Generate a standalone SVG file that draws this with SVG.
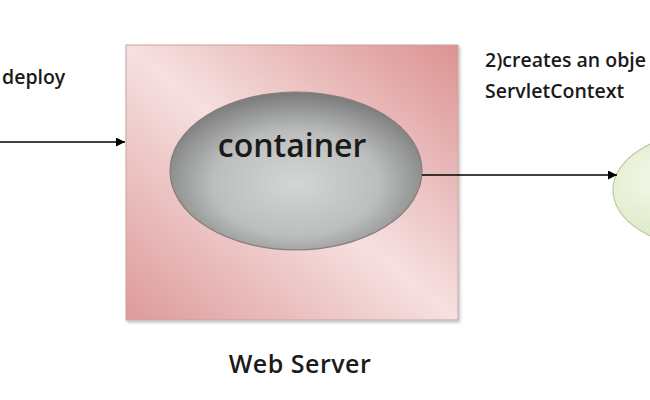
<svg xmlns="http://www.w3.org/2000/svg" width="650" height="400" viewBox="0 0 650 400">
<style>
.lbl{font-family:"Open Sans","Liberation Sans",sans-serif;font-weight:600;fill:#1a1a1a}
.conn{stroke:#000;stroke-width:1.3;fill:none}
</style>
<defs>
<linearGradient id="pink" x1="1" y1="0" x2="0" y2="1">
<stop offset="0" stop-color="#dc9292"/>
<stop offset="0.5" stop-color="#f6e0e0"/>
<stop offset="1" stop-color="#de9a9a"/>
</linearGradient>
<radialGradient id="gray" cx="0.5" cy="0.58" r="0.6">
<stop offset="0" stop-color="#d4d6d6"/>
<stop offset="0.55" stop-color="#bcbebe"/>
<stop offset="1" stop-color="#747474"/>
</radialGradient>
<radialGradient id="green" cx="0.3" cy="0.4" r="0.7">
<stop offset="0" stop-color="#f4f8ea"/>
<stop offset="1" stop-color="#d6e6bd"/>
</radialGradient>
<filter id="sh" x="-10%" y="-10%" width="120%" height="120%">
<feDropShadow dx="1.5" dy="2" stdDeviation="1.5" flood-color="#000" flood-opacity="0.25"/>
</filter>
<marker id="ah" viewBox="0 0 10 10" refX="10" refY="5" markerWidth="9" markerHeight="9" markerUnits="userSpaceOnUse" orient="auto">
<path d="M0,0 L10,5 L0,10 z" fill="#000"/>
</marker>
</defs>
<g id="web-server">
<rect x="126" y="45" width="332" height="275" fill="url(#pink)" stroke="#c9a3a3" stroke-width="1" filter="url(#sh)"/>
<text class="lbl" x="300" y="373" font-size="25" text-anchor="middle" font-weight="700" letter-spacing="0.5">Web Server</text>
</g>
<g id="container">
<ellipse cx="296" cy="171" rx="126" ry="79" fill="url(#gray)" stroke="#8a7c7c" stroke-width="1.2"/>
<text class="lbl" x="292" y="157" font-size="32" text-anchor="middle" font-weight="700">container</text>
</g>
<g id="servlet-context">
<ellipse cx="705" cy="190" rx="92" ry="57" fill="url(#green)" stroke="#b9c9a2" stroke-width="1.2"/>
</g>
<g id="connectors">
<line class="conn" x1="0" y1="142" x2="125" y2="142" marker-end="url(#ah)"/>
<line class="conn" x1="422" y1="175" x2="617" y2="175" marker-end="url(#ah)"/>
</g>
<g id="labels">
<text class="lbl" x="2" y="84" font-size="19.5">deploy</text>
<text class="lbl" x="485" y="67" font-size="19.5">2)creates an obje</text>
<text class="lbl" x="485" y="98" font-size="19.5">ServletContext</text>
</g>
</svg>
